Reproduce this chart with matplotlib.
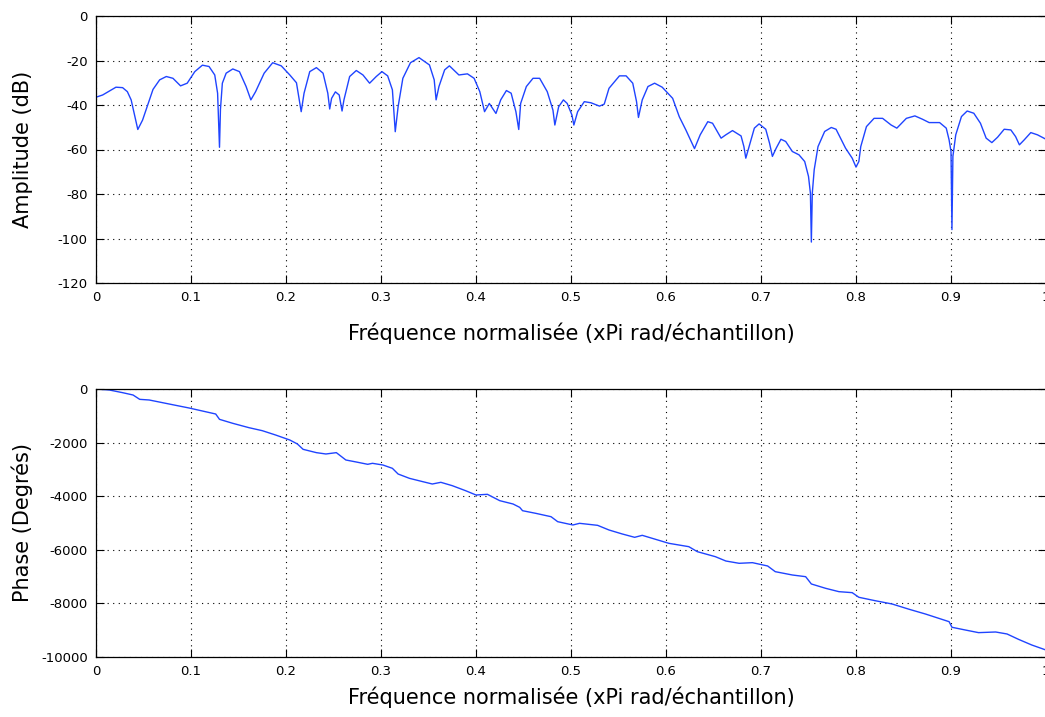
import matplotlib.pyplot as plt

plt.rcParams['axes.unicode_minus'] = False

# amplitude response (normalised freq, dB)
freq_amp = [0.000, 0.007, 0.021, 0.028, 0.033, 0.037, 0.044, 0.049, 0.060, 0.067,
            0.074, 0.081, 0.089, 0.096, 0.104, 0.112, 0.119, 0.125, 0.128, 0.130,
            0.131, 0.133, 0.137, 0.144, 0.151, 0.158, 0.163, 0.168, 0.177, 0.186,
            0.195, 0.204, 0.211, 0.214, 0.216, 0.219, 0.225, 0.232, 0.239, 0.244,
            0.246, 0.248, 0.252, 0.256, 0.259, 0.261, 0.267, 0.274, 0.281, 0.288,
            0.295, 0.301, 0.307, 0.312, 0.315, 0.318, 0.323, 0.331, 0.340, 0.351,
            0.356, 0.358, 0.361, 0.367, 0.372, 0.382, 0.391, 0.398, 0.404, 0.409,
            0.414, 0.421, 0.426, 0.432, 0.437, 0.442, 0.445, 0.447, 0.453, 0.460,
            0.467, 0.475, 0.481, 0.483, 0.487, 0.492, 0.496, 0.501, 0.503, 0.507,
            0.514, 0.521, 0.530, 0.535, 0.540, 0.551, 0.558, 0.565, 0.569, 0.571,
            0.575, 0.581, 0.588, 0.596, 0.607, 0.614, 0.621, 0.630, 0.636, 0.644,
            0.649, 0.658, 0.663, 0.670, 0.679, 0.682, 0.684, 0.688, 0.693, 0.698,
            0.705, 0.709, 0.712, 0.716, 0.721, 0.726, 0.733, 0.740, 0.746, 0.750,
            0.752, 0.753, 0.754, 0.756, 0.760, 0.767, 0.774, 0.779, 0.789, 0.796,
            0.800, 0.803, 0.805, 0.811, 0.819, 0.828, 0.837, 0.843, 0.853, 0.862,
            0.870, 0.877, 0.888, 0.895, 0.898, 0.900, 0.901, 0.902, 0.905, 0.911,
            0.917, 0.924, 0.931, 0.937, 0.943, 0.949, 0.956, 0.963, 0.968, 0.972,
            0.977, 0.984, 0.991, 1.000]
amp_db = [-36.5, -35.5, -32.0, -32.2, -34.0, -37.7, -51.0, -46.8, -33.0, -28.7,
          -27.2, -28.0, -31.4, -30.2, -25.0, -22.1, -22.7, -26.5, -34.7, -59.0,
          -42.0, -30.2, -25.7, -23.8, -25.0, -31.7, -37.7, -34.0, -25.7, -21.0,
          -22.4, -26.5, -30.0, -37.7, -43.0, -34.7, -25.0, -23.2, -25.7, -34.7,
          -41.8, -37.0, -34.1, -35.5, -42.7, -37.7, -27.2, -24.5, -26.5, -30.2,
          -27.2, -25.0, -26.9, -33.2, -52.0, -40.8, -28.0, -21.0, -18.7, -22.0,
          -28.7, -37.7, -31.7, -24.2, -22.4, -26.5, -26.0, -28.0, -34.0, -43.0,
          -39.3, -43.8, -37.7, -33.5, -34.7, -43.0, -51.0, -39.3, -31.7, -28.0,
          -28.0, -34.0, -42.3, -49.0, -40.8, -37.7, -39.3, -44.5, -49.0, -43.0,
          -38.5, -39.0, -40.5, -39.6, -32.5, -26.9, -26.9, -30.2, -38.5, -45.6,
          -37.7, -31.7, -30.2, -32.0, -37.0, -45.3, -51.3, -59.6, -53.4, -47.5,
          -48.2, -54.9, -53.4, -51.5, -53.9, -58.7, -63.9, -57.9, -50.4, -48.5,
          -50.9, -57.2, -63.1, -59.4, -55.4, -56.4, -60.9, -62.4, -65.4, -72.1,
          -79.6, -101.6, -79.6, -69.1, -58.7, -51.9, -50.1, -50.9, -59.4, -63.9,
          -67.9, -65.4, -58.7, -49.7, -46.0, -46.0, -49.0, -50.4, -46.0, -44.9,
          -46.4, -47.9, -47.9, -50.4, -55.7, -60.9, -96.0, -63.1, -53.4, -45.2,
          -42.7, -43.7, -48.2, -54.9, -56.9, -54.5, -50.9, -51.2, -54.2, -57.9,
          -55.7, -52.4, -53.4, -55.4]

# phase response (normalised freq, degrees)
freq_ph = [0.000, 0.014, 0.028, 0.039, 0.046, 0.056, 0.070, 0.084, 0.098, 0.112,
           0.126, 0.130, 0.144, 0.161, 0.175, 0.189, 0.204, 0.212, 0.218, 0.232,
           0.242, 0.253, 0.263, 0.274, 0.286, 0.291, 0.302, 0.312, 0.318, 0.330,
           0.344, 0.354, 0.363, 0.375, 0.389, 0.400, 0.412, 0.425, 0.439, 0.446,
           0.449, 0.463, 0.479, 0.486, 0.502, 0.509, 0.528, 0.540, 0.554, 0.567,
           0.575, 0.589, 0.603, 0.624, 0.633, 0.652, 0.663, 0.677, 0.691, 0.707,
           0.715, 0.733, 0.747, 0.753, 0.768, 0.782, 0.796, 0.803, 0.820, 0.838,
           0.856, 0.873, 0.898, 0.901, 0.915, 0.929, 0.947, 0.959, 0.971, 0.985,
           1.000]
phase_deg = [0, -37, -137, -224, -386, -410, -510, -610, -709, -821,
             -933, -1132, -1281, -1443, -1555, -1716, -1903, -2052, -2251, -2375,
             -2425, -2375, -2649, -2724, -2810, -2773, -2836, -2960, -3172, -3334,
             -3458, -3545, -3482, -3607, -3794, -3955, -3930, -4167, -4291, -4416,
             -4541, -4640, -4765, -4951, -5074, -5012, -5087, -5261, -5410, -5534,
             -5460, -5609, -5758, -5883, -6070, -6257, -6418, -6504, -6480, -6604,
             -6816, -6940, -7003, -7275, -7437, -7562, -7599, -7772, -7898, -8022,
             -8220, -8395, -8682, -8891, -8992, -9091, -9067, -9141, -9340, -9552,
             -9740]

x_ticks = [0, 0.1, 0.2, 0.3, 0.4, 0.5, 0.6, 0.7, 0.8, 0.9, 1]
x_labels = ['0', '0.1', '0.2', '0.3', '0.4', '0.5', '0.6', '0.7', '0.8', '0.9', '1']
xlabel = 'Fréquence normalisée (xPi rad/échantillon)'

fig = plt.figure(figsize=(10.45, 7.17), dpi=100)
ax1 = fig.add_axes([96 / 1045, 1 - 283 / 717, 950 / 1045, 267 / 717])
ax2 = fig.add_axes([96 / 1045, 1 - 657 / 717, 950 / 1045, 268 / 717])

ax1.plot(freq_amp, amp_db, color='#1f44ff', linewidth=1.0)
ax1.set_ylim(-120, 0)
ax1.set_yticks(range(-120, 1, 20))
ax1.set_ylabel('Amplitude (dB)', fontsize=15)
ax1.set_xlabel(xlabel, fontsize=15, labelpad=13)

ax2.plot(freq_ph, phase_deg, color='#1f44ff', linewidth=1.0)
ax2.set_ylim(-10000, 0)
ax2.set_yticks(range(-10000, 1, 2000))
ax2.set_ylabel('Phase (Degrés)', fontsize=15)
ax2.set_xlabel(xlabel, fontsize=15, labelpad=6)

for ax in (ax1, ax2):
    ax.set_xlim(0, 1)
    ax.set_xticks(x_ticks)
    ax.set_xticklabels(x_labels)
    ax.yaxis.set_label_coords(-0.066, 0.5)
    ax.grid(True, color='black', linestyle=(0, (1, 4)), linewidth=0.8)
    ax.tick_params(axis='both', direction='in', top=True, right=True,
                   labelsize=9.5, length=6, pad=6)
    for s in ax.spines.values():
        s.set_linewidth(0.9)

fig.savefig('out.png', dpi=100)
